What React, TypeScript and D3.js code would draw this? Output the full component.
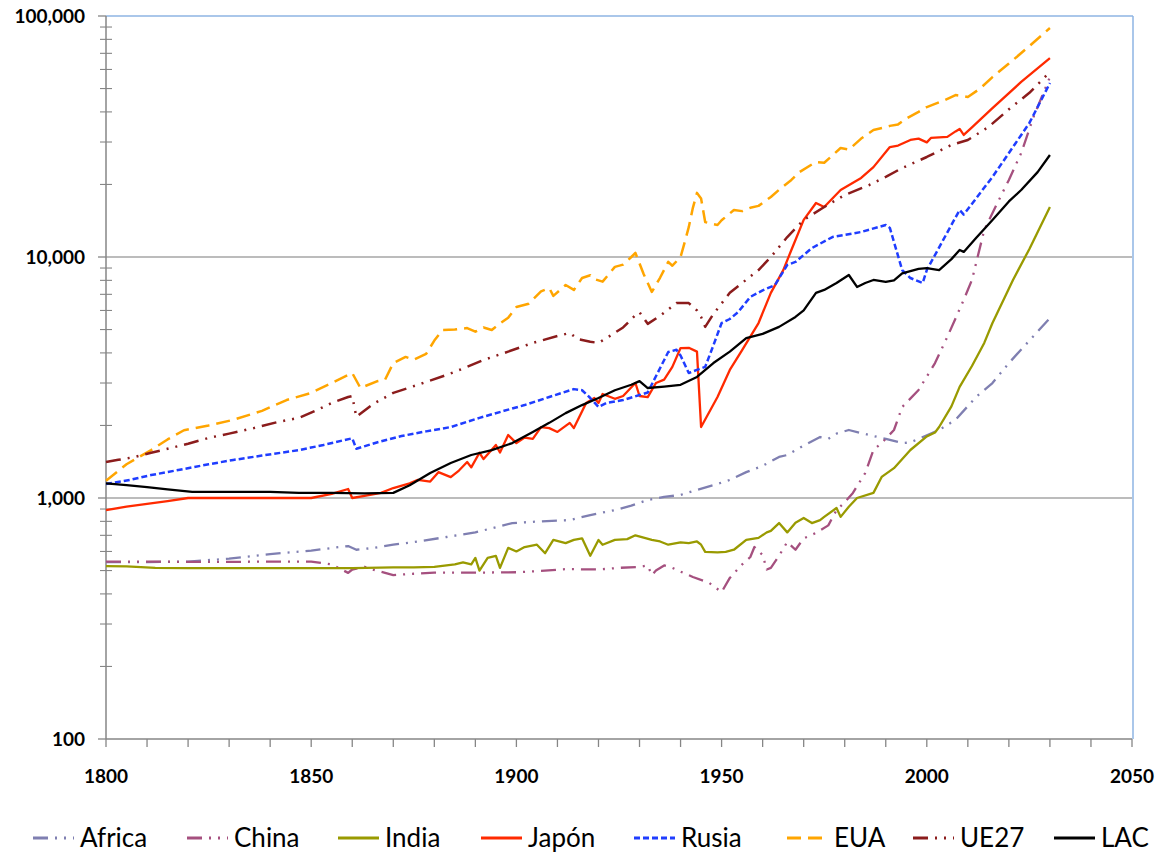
import React from "react";
import * as d3 from "d3";

type Pt = [number, number];

const seriesNames = ["Africa", "China", "India", "Japón", "Rusia", "EUA", "UE27", "LAC"];

const africa: Pt[] = [
  [1800, 542], [1810, 542], [1820, 545], [1830, 560], [1840, 585], [1850, 605], [1855, 620], [1859, 632],
  [1861, 610], [1865, 620], [1870, 640], [1876, 660], [1883, 689], [1890, 720], [1899, 787], [1906, 800],
  [1913, 810], [1918, 850], [1924, 891], [1928, 930], [1932, 981], [1936, 1010], [1940, 1030], [1944, 1080],
  [1948, 1130], [1952, 1188], [1956, 1280], [1960, 1360], [1964, 1480], [1966, 1508], [1970, 1650],
  [1974, 1791], [1976, 1760], [1978, 1850], [1981, 1915], [1984, 1860], [1986, 1825], [1990, 1760],
  [1994, 1690], [1996, 1700], [1998, 1760], [2003, 1915], [2007, 2110], [2012, 2625], [2016, 3000],
  [2020, 3630], [2025, 4500], [2030, 5580],
];

const china: Pt[] = [
  [1800, 545], [1810, 545], [1820, 543], [1830, 543], [1840, 545], [1850, 545], [1855, 530], [1859, 489],
  [1860, 505], [1863, 518], [1865, 505], [1870, 479], [1875, 485], [1880, 490], [1890, 490], [1900, 492],
  [1905, 497], [1912, 507], [1920, 505], [1925, 513], [1930, 518], [1932, 525], [1933, 479], [1934, 500],
  [1936, 525], [1938, 513], [1940, 495], [1943, 470], [1947, 444], [1950, 407], [1952, 466], [1955, 530],
  [1957, 569], [1958, 626], [1960, 580], [1961, 505], [1962, 513], [1964, 576], [1966, 657], [1968, 610],
  [1970, 680], [1973, 716], [1976, 770], [1978, 891], [1980, 960], [1982, 1050], [1985, 1270], [1987, 1582],
  [1989, 1690], [1992, 1915], [1994, 2385], [1998, 2806], [2002, 3630], [2005, 4660], [2009, 6640],
  [2011, 8030], [2014, 12940], [2017, 16500], [2020, 20880], [2023, 27000], [2026, 38100], [2030, 55800],
];

const india: Pt[] = [
  [1800, 522], [1805, 520], [1812, 513], [1820, 512], [1830, 512], [1840, 512], [1850, 512], [1860, 512],
  [1870, 515], [1875, 515], [1880, 518], [1885, 530], [1887, 540], [1889, 530], [1890, 564], [1891, 500],
  [1893, 564], [1895, 575], [1896, 513], [1898, 621], [1900, 600], [1902, 626], [1905, 640], [1907, 590],
  [1909, 670], [1912, 650], [1914, 670], [1916, 680], [1918, 576], [1920, 670], [1921, 640], [1924, 670],
  [1927, 675], [1929, 700], [1931, 685], [1933, 670], [1935, 660], [1937, 640], [1940, 655], [1942, 650],
  [1944, 660], [1945, 640], [1946, 598], [1949, 595], [1951, 598], [1953, 610], [1956, 670], [1959, 683],
  [1961, 720], [1962, 730], [1964, 787], [1966, 720], [1968, 790], [1970, 826], [1972, 787], [1974, 810],
  [1975, 835], [1978, 909], [1979, 835], [1981, 920], [1983, 1000], [1987, 1050], [1989, 1223],
  [1992, 1330], [1996, 1582], [2000, 1800], [2002, 1870], [2003, 1970], [2006, 2400], [2008, 2890],
  [2011, 3530], [2014, 4400], [2016, 5320], [2019, 6800], [2021, 8030], [2025, 10800], [2030, 16130],
];

const japon: Pt[] = [
  [1800, 891], [1805, 920], [1810, 945], [1815, 970], [1820, 1000], [1830, 1000], [1840, 1000],
  [1850, 1000], [1855, 1040], [1859, 1090], [1860, 1000], [1863, 1020], [1867, 1050], [1870, 1100],
  [1874, 1150], [1876, 1190], [1879, 1170], [1881, 1280], [1884, 1220], [1886, 1300], [1888, 1410],
  [1889, 1340], [1891, 1540], [1892, 1450], [1895, 1660], [1896, 1545], [1898, 1825], [1900, 1690],
  [1902, 1780], [1904, 1760], [1906, 1970], [1908, 1950], [1910, 1880], [1913, 2050], [1914, 1950],
  [1917, 2480], [1919, 2600], [1920, 2480], [1921, 2700], [1924, 2580], [1926, 2650], [1929, 3000],
  [1930, 2650], [1932, 2620], [1934, 3000], [1936, 3100], [1938, 3500], [1940, 4190], [1942, 4200],
  [1944, 4050], [1945, 1970], [1949, 2625], [1952, 3400], [1955, 4110], [1959, 5320], [1962, 7100],
  [1965, 8800], [1967, 10690], [1970, 14250], [1973, 16760], [1975, 16120], [1979, 18970], [1984, 21280],
  [1987, 23600], [1991, 28600], [1993, 29000], [1996, 30600], [1998, 31000], [2000, 29900], [2001, 31200],
  [2005, 31500], [2007, 33200], [2008, 34000], [2009, 32100], [2011, 34500], [2016, 41500], [2023, 53250],
  [2030, 66900],
];

const rusia: Pt[] = [
  [1800, 1143], [1806, 1190], [1811, 1245], [1818, 1310], [1825, 1380], [1831, 1438], [1838, 1500],
  [1847, 1580], [1853, 1660], [1860, 1770], [1861, 1600], [1866, 1700], [1872, 1808], [1878, 1890],
  [1884, 1970], [1891, 2150], [1897, 2300], [1902, 2430], [1908, 2625], [1914, 2830], [1916, 2800],
  [1918, 2600], [1920, 2385], [1922, 2480], [1926, 2550], [1930, 2675], [1932, 2740], [1934, 3200],
  [1937, 4035], [1939, 4120], [1940, 3900], [1942, 3300], [1944, 3400], [1946, 3500], [1948, 4300],
  [1950, 5320], [1952, 5530], [1954, 5900], [1957, 6830], [1960, 7270], [1963, 7650], [1966, 9270],
  [1968, 9540], [1972, 10890], [1977, 12100], [1984, 12700], [1990, 13580], [1991, 13200], [1994, 8830],
  [1996, 8180], [1999, 7800], [2000, 8830], [2004, 11770], [2008, 15670], [2009, 15000], [2012, 17500],
  [2016, 21480], [2020, 27000], [2025, 36000], [2030, 52700],
];

const eua: Pt[] = [
  [1800, 1180], [1805, 1380], [1811, 1580], [1815, 1750], [1819, 1910], [1825, 2000], [1831, 2110],
  [1838, 2300], [1844, 2550], [1850, 2730], [1855, 3000], [1860, 3300], [1862, 2860], [1866, 3050],
  [1868, 3100], [1870, 3630], [1873, 3850], [1875, 3750], [1878, 3960], [1880, 4500], [1882, 4980],
  [1885, 5000], [1888, 5070], [1890, 4900], [1892, 5100], [1894, 4980], [1896, 5300], [1898, 5600],
  [1900, 6200], [1903, 6400], [1906, 7200], [1908, 7430], [1909, 6900], [1912, 7650], [1914, 7300],
  [1916, 8180], [1918, 8400], [1919, 8100], [1921, 7900], [1924, 9100], [1926, 9300], [1928, 10000],
  [1929, 10400], [1931, 8500], [1933, 7160], [1935, 8200], [1937, 9540], [1938, 9200], [1940, 10000],
  [1941, 11500], [1942, 13300], [1943, 16000], [1944, 18450], [1945, 17500], [1946, 13960], [1947, 13800],
  [1949, 13580], [1950, 14200], [1953, 15670], [1955, 15500], [1957, 16000], [1959, 16300], [1962, 17740],
  [1964, 19000], [1967, 20880], [1969, 22530], [1973, 24800], [1975, 24600], [1979, 28330], [1981, 27900],
  [1984, 31000], [1987, 33650], [1990, 34600], [1991, 35000], [1993, 35500], [1995, 37500], [1998, 40000],
  [2000, 41900], [2004, 44500], [2007, 47000], [2009, 46500], [2010, 46100], [2013, 50000], [2016, 55800],
  [2020, 63500], [2025, 75000], [2030, 89170],
];

const ue27: Pt[] = [
  [1800, 1410], [1803, 1440], [1807, 1480], [1811, 1540], [1815, 1600], [1820, 1680], [1825, 1775],
  [1830, 1850], [1836, 1950], [1842, 2070], [1847, 2150], [1851, 2300], [1855, 2480], [1859, 2625],
  [1860, 2650], [1861, 2170], [1865, 2450], [1870, 2730], [1876, 2950], [1883, 3240], [1888, 3500],
  [1892, 3740], [1898, 4050], [1904, 4400], [1910, 4700], [1913, 4840], [1915, 4560], [1918, 4450],
  [1920, 4400], [1923, 4730], [1926, 5100], [1929, 5740], [1930, 5900], [1932, 5280], [1935, 5700],
  [1939, 6440], [1942, 6440], [1944, 6000], [1945, 5640], [1946, 5130], [1948, 5800], [1952, 7100],
  [1955, 7800], [1959, 8830], [1962, 10000], [1966, 12100], [1970, 14250], [1975, 16120], [1980, 18080],
  [1986, 19900], [1990, 21500], [1994, 23400], [2000, 26000], [2006, 29170], [2010, 30600], [2015, 34600],
  [2020, 41000], [2025, 48000], [2030, 58600],
];

const lac: Pt[] = [
  [1800, 1150], [1805, 1130], [1810, 1110], [1815, 1085], [1821, 1060], [1830, 1060], [1840, 1060],
  [1847, 1050], [1855, 1050], [1863, 1045], [1870, 1050], [1874, 1130], [1879, 1270], [1884, 1397],
  [1889, 1508], [1894, 1580], [1899, 1690], [1904, 1880], [1908, 2050], [1912, 2250], [1916, 2430],
  [1920, 2600], [1924, 2800], [1928, 2950], [1930, 3055], [1932, 2860], [1936, 2900], [1940, 2950],
  [1944, 3180], [1948, 3630], [1952, 4050], [1956, 4610], [1960, 4800], [1964, 5130], [1968, 5640],
  [1970, 6000], [1973, 7100], [1975, 7300], [1978, 7800], [1981, 8420], [1983, 7510], [1985, 7800],
  [1987, 8030], [1990, 7880], [1992, 8000], [1994, 8550], [1998, 8920], [2000, 9000], [2003, 8830],
  [2006, 9800], [2008, 10690], [2009, 10500], [2012, 12000], [2016, 14250], [2020, 17000], [2023, 18970],
  [2027, 22500], [2030, 26500],
];

const xTickLabels = [1800, 1850, 1900, 1950, 2000, 2050];
const yTickLabels = [100, 1000, 10000, 100000];

const seriesData: Pt[][] = [africa, china, india, japon, rusia, eua, ue27, lac];

const LDD = "15,7,2,7,2,7";
const seriesStyle = [
  { color: "#7f7fb1", dash: LDD, width: 2.3 },
  { color: "#a5507f", dash: LDD, width: 2.3 },
  { color: "#999a00", dash: "", width: 2.3 },
  { color: "#ff2a00", dash: "", width: 2.3 },
  { color: "#1f3dff", dash: "6,3", width: 2.5 },
  { color: "#ffa500", dash: "14,7", width: 2.5 },
  { color: "#8b1c1c", dash: LDD, width: 2.5 },
  { color: "#000000", dash: "", width: 2.3 },
];

const legendStart = [33, 187, 338, 481, 634, 787, 913, 1054];

const FONT = "Lato, 'Open Sans', Arial, sans-serif";

export default function App() {
  const left = 106, right = 1132, top = 16, bottom = 739;
  const x = d3.scaleLinear().domain([1800, 2050]).range([left, right]);
  const y = d3.scaleLog().domain([100, 100000]).range([bottom, top]);
  const line = d3.line<Pt>().x((d) => x(d[0])).y((d) => y(d[1]));

  const xTicks = d3.range(1800, 2051, 10);
  const minorY: number[] = [];
  for (let dec = 100; dec < 100000; dec *= 10) {
    for (let k = 2; k <= 9; k++) minorY.push(dec * k);
  }

  return (
    <svg width={1160} height={852} style={{ position: "absolute", left: 0, top: 0, background: "#fff" }}>
      <rect x={0} y={0} width={1160} height={852} fill="#fff" />
      {/* gridlines */}
      {[1000, 10000].map((v) => (
        <line key={v} x1={left} x2={right} y1={y(v)} y2={y(v)} stroke="#a6a6a6" strokeWidth={1.3} />
      ))}
      {/* plot border top / right */}
      <line x1={left} x2={right + 1} y1={top} y2={top} stroke="#8eb4e3" strokeWidth={1.5} />
      <line x1={right + 1} x2={right + 1} y1={top} y2={bottom} stroke="#8eb4e3" strokeWidth={1.5} />
      {/* y axis */}
      <line x1={left} x2={left} y1={top} y2={bottom} stroke="#868686" strokeWidth={1.5} />
      {yTickLabels.map((v) => (
        <line key={"mt" + v} x1={left - 8} x2={left} y1={y(v)} y2={y(v)} stroke="#868686" strokeWidth={1.3} />
      ))}
      {minorY.map((v) => (
        <line key={"mn" + v} x1={left - 6} x2={left + 6} y1={y(v)} y2={y(v)} stroke="#868686" strokeWidth={1.1} />
      ))}
      {yTickLabels.map((v) => (
        <text key={"yl" + v} x={85} y={y(v)} dy="0.36em" textAnchor="end" fontFamily={FONT}
          fontWeight={700} fontSize={19} fill="#000">{d3.format(",")(v)}</text>
      ))}
      {/* x axis */}
      <line x1={left} x2={right} y1={bottom} y2={bottom} stroke="#868686" strokeWidth={1.5} />
      {xTicks.map((t) => (
        <line key={"xt" + t} x1={x(t)} x2={x(t)} y1={bottom} y2={bottom + 8} stroke="#868686" strokeWidth={1.3} />
      ))}
      {xTickLabels.map((t) => (
        <text key={"xl" + t} x={x(t)} y={783} textAnchor="middle" fontFamily={FONT}
          fontWeight={700} fontSize={19} fill="#000">{t}</text>
      ))}
      {/* series */}
      {seriesData.map((d, i) => (
        <path key={seriesNames[i]} d={line(d) || ""} fill="none" stroke={seriesStyle[i].color}
          strokeWidth={seriesStyle[i].width} strokeDasharray={seriesStyle[i].dash || undefined}
          strokeLinejoin="round" />
      ))}
      {/* legend */}
      {seriesNames.map((n, i) => (
        <g key={"lg" + n}>
          <line x1={legendStart[i]} x2={legendStart[i] + 41} y1={838} y2={838} stroke={seriesStyle[i].color}
            strokeWidth={2.8} strokeDasharray={seriesStyle[i].dash || undefined} />
          <text x={legendStart[i] + 47} y={847} fontFamily={FONT} fontSize={26} fill="#000">{n}</text>
        </g>
      ))}
    </svg>
  );
}
